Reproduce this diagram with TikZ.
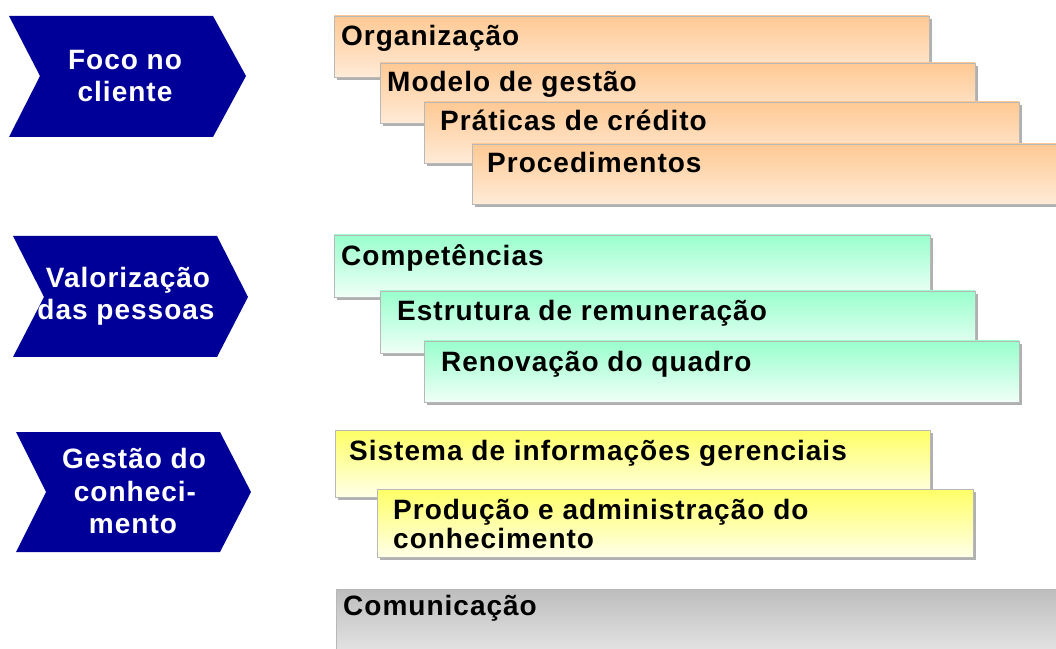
\documentclass[tikz,border=0pt]{standalone}
\usepackage{fontspec}
\setmainfont{Liberation Sans}
\newfontfamily\lblfont{Liberation Sans}[LetterSpace=3.6]
\usetikzlibrary{shadows}
\definecolor{navy}{HTML}{000099}
\definecolor{boxline}{HTML}{B8B8B8}
\definecolor{shadowgray}{HTML}{B0B0B0}
\definecolor{orangetop}{HTML}{FFC993}
\definecolor{orangebot}{HTML}{FFEBD8}
\definecolor{greentop}{HTML}{99FFCC}
\definecolor{greenbot}{HTML}{F0FFF8}
\definecolor{yellowtop}{HTML}{FFFF66}
\definecolor{yellowbot}{HTML}{FFFFE8}
\definecolor{graytop}{HTML}{BDBDBD}
\definecolor{graybot}{HTML}{F4F4F4}
\begin{document}
\begin{tikzpicture}[x=1pt,y=1pt,
  chevshape/.style={fill=navy,draw=none},
  ctext/.style={text=white,font=\lblfont\bfseries\fontsize{28}{32}\selectfont,inner sep=0pt,anchor=base},
  btext/.style={text=black,font=\lblfont\bfseries\fontsize{28}{29}\selectfont,inner sep=0pt,anchor=base west},
  tbox/.style n args={4}{draw=boxline,line width=0.8pt,top color=#1,bottom color=#2,
    minimum width=#3,minimum height=#4,inner sep=0pt,outer sep=0pt,anchor=north west,
    drop shadow={shadow xshift=3pt,shadow yshift=-3pt,fill=shadowgray,opacity=1}},
]
\useasboundingbox (0,0) rectangle (1056,648);
\clip (0,0) rectangle (1056,648);

% chevrons
\path[chevshape] (9,632) -- (213,632) -- (246,572) -- (213,511) -- (9,511) -- (40,572) -- cycle;
\path[chevshape] (13,412) -- (217,412) -- (248,351) -- (217,291) -- (13,291) -- (44,351) -- cycle;
\path[chevshape] (16,216) -- (220,216) -- (251,156) -- (220,96) -- (16,96) -- (46,156) -- cycle;

\node[ctext] (c1a) at (125,578) {Foco no};
\node[ctext] (c1b) at (125,546) {cliente};
\node[ctext] (c2a) at (128,360) {Valorização};
\node[ctext] (c2b) at (126,328) {das pessoas};
\node[ctext] (c3a) at (134,180) {Gestão do};
\node[ctext] (c3b) at (135,147) {conheci-};
\node[ctext] (c3c) at (133,115) {mento};

% orange group
\node[tbox={orangetop}{orangebot}{595pt}{61pt}] (o1) at (334,632) {};
\node[btext] (o1t) at (341,602) {Organização};
\node[tbox={orangetop}{orangebot}{595pt}{60pt}] (o2) at (380,585) {};
\node[btext] (o2t) at (387,556) {Modelo de gestão};
\node[tbox={orangetop}{orangebot}{595pt}{61pt}] (o3) at (424,546) {};
\node[btext] (o3t) at (440,517) {Práticas de crédito};
\node[tbox={orangetop}{orangebot}{600pt}{60pt}] (o4) at (472,504) {};
\node[btext] (o4t) at (487,475) {Procedimentos};

% green group
\node[tbox={greentop}{greenbot}{596pt}{62pt}] (g1) at (334,413) {};
\node[btext] (g1t) at (341,382) {Competências};
\node[tbox={greentop}{greenbot}{595pt}{62pt}] (g2) at (380,357) {};
\node[btext] (g2t) at (397,327) {Estrutura de remuneração};
\node[tbox={greentop}{greenbot}{595pt}{61pt}] (g3) at (424,307) {};
\node[btext] (g3t) at (441,276) {Renovação do quadro};

% yellow group
\node[tbox={yellowtop}{yellowbot}{595pt}{67pt}] (y1) at (335,218) {};
\node[btext] (y1t) at (349,188) {Sistema de informações gerenciais};
\node[tbox={yellowtop}{yellowbot}{596pt}{68pt}] (y2) at (377,159) {};
\node[btext] (y2t) at (393,129) {Produção e administração do};
\node[btext] (y2u) at (393,100) {conhecimento};

% gray
\node[tbox={graytop}{graybot}{740pt}{90pt}] (k1) at (336,59) {};
\node[btext] (k1t) at (343,33) {Comunicação};
\end{tikzpicture}
\end{document}
